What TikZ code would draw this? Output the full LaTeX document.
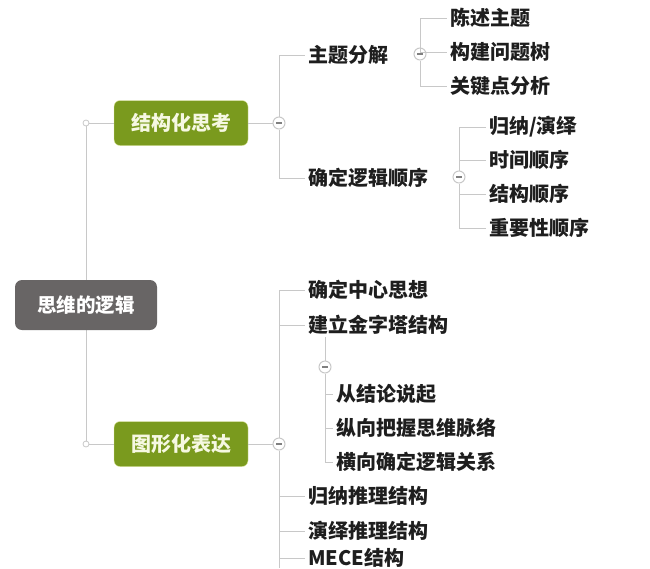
\documentclass[tikz,border=0pt]{standalone}
\usepackage{fontspec}
\setmainfont{Noto Sans CJK SC}
\usetikzlibrary{
    positioning, % relative placement
    calc         % coordinate calculations
}
\definecolor{rootgray}{HTML}{686565}
\definecolor{leafgreen}{HTML}{7A9A1E}
\definecolor{greentext}{HTML}{F6F8E2}
\definecolor{linegray}{HTML}{C8C8C8}
\definecolor{inkdark}{HTML}{1E1E1E}

\begin{document}
\begin{tikzpicture}[
    x=1pt, y=-1pt, % one unit is one pixel of the sketch, y runs downwards
    font=\bfseries\fontsize{20}{23}\selectfont,
    root_style/.style={rectangle, rounded corners=7pt, fill=rootgray, text=white,
        minimum width=142pt, minimum height=50pt, font=\bfseries\fontsize{19.5}{22}\selectfont},
    topic_style/.style={rectangle, rounded corners=6pt, fill=leafgreen, draw=leafgreen!60!yellow!40,
        text=greentext, minimum width=134pt, minimum height=45pt},
    item_style/.style={anchor=west, text=inkdark, inner xsep=3pt, inner ysep=2pt},
    fold_style/.style={circle, draw=linegray, fill=white, minimum size=12pt, inner sep=0pt,
        line width=1pt,
        path picture={\draw[gray, line width=1.3pt]
            ([xshift=-3pt]path picture bounding box.center) --
            ([xshift=3pt]path picture bounding box.center);}},
    branch_style/.style={draw=linegray, line width=1pt}
]
    % Page frame
    \useasboundingbox (0,0) rectangle (650,568);
    \clip (0,0) rectangle (650,568);

    % Joints on the trunk
    \coordinate (jtop) at (86,123);
    \coordinate (jbot) at (86,444);
    \coordinate (gend) at (279,568);

    % Trunk behind the root box
    \draw[branch_style] (jtop) -- (jbot);

    % Root and the two main topics
    \node[root_style] (root) at (86,305) {思维的逻辑};
    \node[topic_style] (struct) at (181,123) {结构化思考};
    \node[topic_style] (graph) at (181,444) {图形化表达};

    \draw[branch_style] (jtop) -- (struct.west);
    \draw[branch_style] (jbot) -- (graph.west);
    \draw[linegray, fill=white, line width=0.8pt] (jtop) circle (3);
    \draw[linegray, fill=white, line width=0.8pt] (jbot) circle (3);

    % Fold markers
    \node[fold_style] (fs) at (279,123) {};
    \node[fold_style] (fg) at (279,444) {};

    % Structured thinking
    \node[item_style] (s1) at (305,55) {主题分解};
    \node[item_style] (s2) at (305,178) {确定逻辑顺序};
    \node[fold_style] (fa) at (420,54) {};
    \node[fold_style] (fb) at (459,177) {};

    \node[item_style] (a1) at (447,18) {陈述主题};
    \node[item_style] (a2) at (447,52) {构建问题树};
    \node[item_style] (a3) at (447,86) {关键点分析};

    \node[item_style] (b1) at (486,127) {归纳/演绎};
    \node[item_style] (b2) at (486,160) {时间顺序};
    \node[item_style] (b3) at (486,194) {结构顺序};
    \node[item_style] (b4) at (486,228) {重要性顺序};

    \draw[branch_style] (struct) -- (fs);
    \foreach \n in {s1,s2} \draw[branch_style] (fs) |- (\n.west);
    \foreach \n in {a1,a2,a3} \draw[branch_style] (fa) |- (\n.west);
    \foreach \n in {b1,b2,b3,b4} \draw[branch_style] (fb) |- (\n.west);

    % Graphic expression
    \node[item_style] (g1) at (305,290) {确定中心思想};
    \node[item_style] (g2) at (305,325) {建立金字塔结构};
    \node[item_style] (g3) at (305,496) {归纳推理结构};
    \node[item_style] (g4) at (305,531) {演绎推理结构};
    \node[item_style] (g5) at (305,558) {MECE结构};
    \node[fold_style] (fp) at (325,367) {};

    \node[item_style] (p1) at (333,394) {从结论说起};
    \node[item_style] (p2) at (333,428) {纵向把握思维脉络};
    \node[item_style] (p3) at (333,462) {横向确定逻辑关系};

    \draw[branch_style] (graph) -- (fg);
    \draw[branch_style] (fg) -- (gend);
    \foreach \n in {g1,g2,g3,g4,g5} \draw[branch_style] (fg) |- (\n.west);
    \draw[branch_style] (fp) -- (fp |- g2.south);
    \foreach \n in {p1,p2,p3} \draw[branch_style] (fp) |- (\n.west);
\end{tikzpicture}
\end{document}
